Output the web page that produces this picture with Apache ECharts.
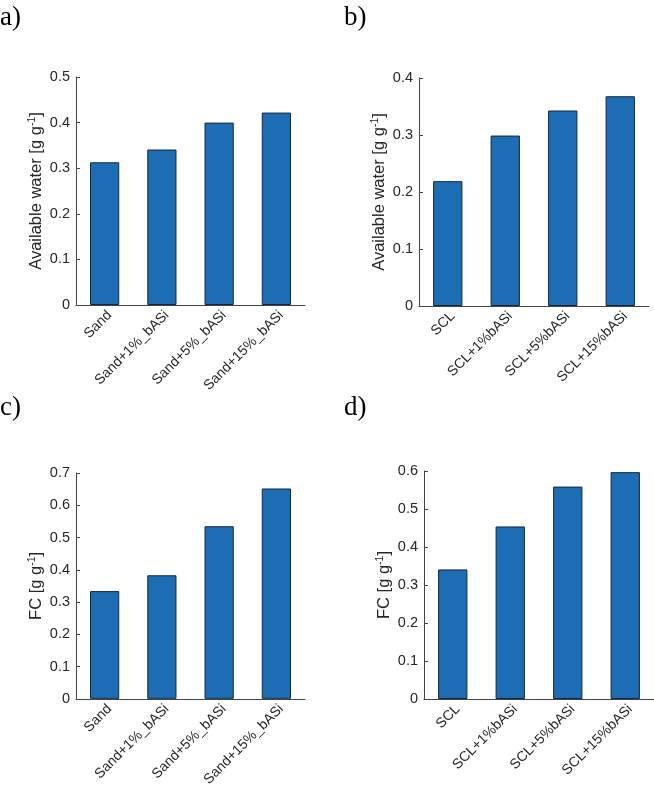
<!DOCTYPE html>
<html>
<head>
<meta charset="utf-8">
<script src="https://cdn.jsdelivr.net/npm/echarts@6/dist/echarts.min.js"></script>
<style>
html,body{margin:0;padding:0;background:#fff;}
#chart{width:654px;height:789px;}
</style>
</head>
<body>
<div id="chart"></div>
<script>
// Categories
const catsSand = ['Sand', 'Sand+1%_bASi', 'Sand+5%_bASi', 'Sand+15%_bASi'];
const catsSCL = ['SCL', 'SCL+1%bASi', 'SCL+5%bASi', 'SCL+15%bASi'];
// Values [g g^-1]
const awSand = [0.313, 0.341, 0.400, 0.422];
const awSCL = [0.219, 0.299, 0.343, 0.368];
const fcSand = [0.334, 0.383, 0.535, 0.652];
const fcSCL = [0.341, 0.454, 0.559, 0.597];
// Axis ranges
const yMax = [0.5, 0.4, 0.7, 0.6];
const yStep = 0.1;
const panelLabels = ['a)', 'b)', 'c)', 'd)'];
const yNames = ['Available water', 'Available water', 'FC', 'FC'];

const chart = echarts.init(document.getElementById('chart'));
const sans = 'Liberation Sans, Arial, sans-serif';
const axisColor = '#444';
const textColor = '#262626';

const grids = [
  {left: 76, top: 77, width: 229, height: 228},
  {left: 419, top: 78, width: 230, height: 228},
  {left: 76, top: 473, width: 229, height: 229},
  {left: 424, top: 471, width: 230, height: 228}
];
const cats = [catsSand, catsSCL, catsSand, catsSCL];
const vals = [awSand, awSCL, fcSand, fcSCL];
const titlePos = [[0, 4], [344, 4], [0, 394], [344, 394]];

const option = {
  animation: false,
  backgroundColor: '#fff',
  title: panelLabels.map((t, i) => ({
    text: t, left: titlePos[i][0], top: titlePos[i][1], padding: 0,
    textStyle: {fontFamily: 'Liberation Serif, Times New Roman, serif', fontSize: 27, fontWeight: 'normal', color: '#000'}
  })),
  grid: grids.map(g => Object.assign({containLabel: false}, g)),
  xAxis: cats.map((c, i) => ({
    type: 'category', gridIndex: i, data: c,
    boundaryGap: true,
    axisLine: {show: true, lineStyle: {color: axisColor, width: 1}},
    axisTick: {show: false},
    axisLabel: {rotate: 45, interval: 0, margin: 3, verticalAlign: 'top', fontSize: 14, color: textColor, fontFamily: sans},
    splitLine: {show: false}
  })),
  yAxis: yMax.map((m, i) => ({
    type: 'value', gridIndex: i, min: 0, max: m, interval: yStep,
    name: '{n|' + yNames[i] + ' [g g}{s|-1}{n|]}',
    nameLocation: 'middle', nameGap: 30, nameRotate: 90,
    nameTextStyle: {
      color: textColor, fontFamily: sans,
      rich: {
        n: {fontSize: 16.5, color: textColor, fontFamily: sans, lineHeight: 19},
        s: {fontSize: 10.5, color: textColor, fontFamily: sans, verticalAlign: 'top', lineHeight: 19, padding: [0, 0, 6, 0]}
      }
    },
    axisLine: {show: true, lineStyle: {color: axisColor, width: 1}},
    axisTick: {show: true, inside: true, length: 4, lineStyle: {color: axisColor}},
    axisLabel: {margin: 6, fontSize: 14.5, color: textColor, fontFamily: sans,
      formatter: v => v === 0 ? '0' : v.toFixed(1)},
    splitLine: {show: false}
  })),
  series: vals.map((v, i) => ({
    type: 'bar', xAxisIndex: i, yAxisIndex: i, data: v,
    barWidth: '51%',
    itemStyle: {color: '#1c6db3', borderColor: '#14283c', borderWidth: 1}
  }))
};
chart.setOption(option);
</script>
</body>
</html>
